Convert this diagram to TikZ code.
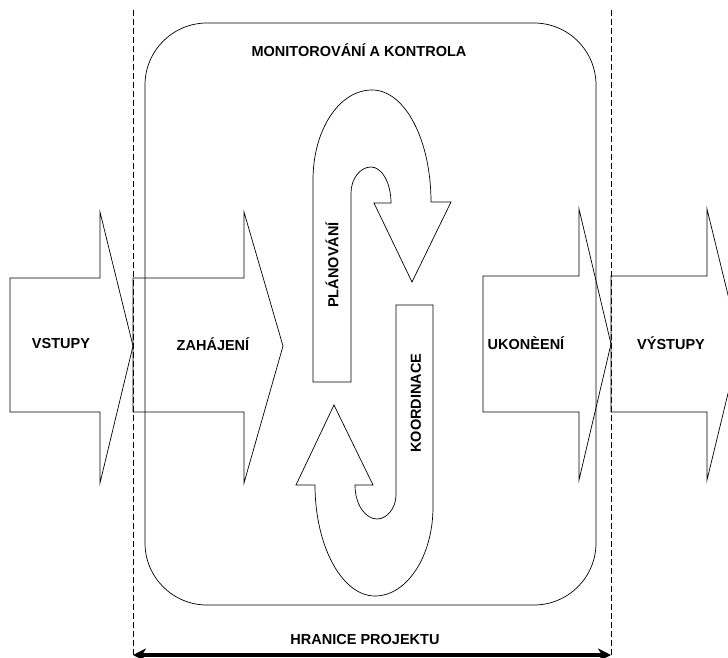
\documentclass[tikz,border=0pt]{standalone}
\usepackage{fontspec}
\setmainfont{Liberation Sans}
\newfontfamily\labelfont{Liberation Sans Bold}
\usetikzlibrary{arrows.meta,positioning}

\begin{document}
\begin{tikzpicture}[x=1pt,y=-1pt]
\tikzstyle{every node}=[font=\labelfont\fontsize{14.5}{16}\selectfont]
\tikzstyle{outline}=[draw,line width=0.7pt,line join=miter]
\tikzstyle{boundary}=[draw,dash pattern=on 6pt off 3pt,line width=0.6pt]

\useasboundingbox (0,0) rectangle (728,658);
\clip (0,0) rectangle (728,658);

% project boundary
\coordinate (bl top) at (133,10);
\coordinate (bl bot) at (133,658);
\coordinate (br top) at (611,10);
\coordinate (br bot) at (611,658);
\draw[boundary] (bl top) -- (bl bot);
\draw[boundary] (br top) -- (br bot);

% monitoring frame
\draw[outline,rounded corners=62pt] (145,23) rectangle (596,605);
\node (monit) at (359,50) {MONITOROVÁNÍ A KONTROLA};

% block arrows
\draw[outline] (10,278) -- (100,278) -- (100,212) -- (133,346) -- (100,483) -- (100,412) -- (10,412) -- cycle;
\draw[outline] (133,278) -- (244,278) -- (244,212) -- (283,346) -- (244,483) -- (244,412) -- (133,412) -- cycle;
\draw[outline] (483,276) -- (579,276) -- (579,209) -- (611,344) -- (579,480) -- (579,412) -- (483,412) -- cycle;
\draw[outline] (611,276) -- (707,276) -- (707,209) -- (740,344) -- (707,480) -- (707,412) -- (611,412) -- cycle;
\node (vstupy) at (61,344) {VSTUPY};
\node (zahajeni) at (213,344) {ZAHÁJENÍ};
\node (ukonceni) at (526,343) {UKONÈENÍ};
\node (vystupy) at (671,343) {VÝSTUPY};

% planning loop
\draw[outline] (351,382) -- (351,193)
  .. controls (351,179) and (360,167) .. (371,167)
  .. controls (382,167) and (391,183) .. (391,203)
  -- (374,203) -- (412,282) -- (451,202) -- (431,202)
  .. controls (431,140) and (405,90) .. (372,90)
  .. controls (339,90) and (313,130) .. (313,180)
  -- (313,382) -- cycle;
\node[rotate=90] (planovani) at (332,265) {PLÁNOVÁNÍ};

% coordination loop
\draw[outline] (396,305) -- (433,305) -- (433,507)
  .. controls (433,556) and (407,596) .. (375,596)
  .. controls (342,596) and (315,546) .. (315,485)
  -- (296,485) -- (334,405) -- (373,485) -- (355,485)
  .. controls (355,504) and (365,519) .. (377,519)
  .. controls (387,519) and (396,508) .. (396,495)
  -- cycle;
\node[rotate=90] (koordinace) at (416,403) {KOORDINACE};

% boundary arrow
\draw[line width=3.5pt,{Stealth[length=13pt,width=13pt,inset=4pt]}-{Stealth[length=13pt,width=13pt,inset=4pt]}] (bl bot |- 0,655) -- (br bot |- 0,655);
\node (hranice) at (365,640) {HRANICE PROJEKTU};
\end{tikzpicture}
\end{document}
